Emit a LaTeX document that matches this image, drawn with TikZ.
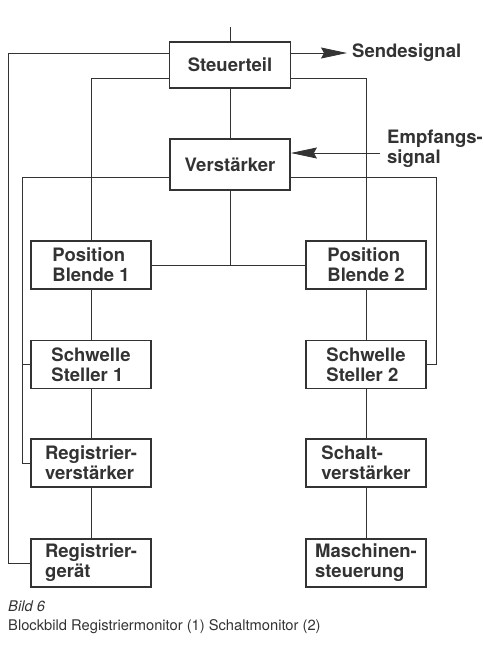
\documentclass[tikz,border=0pt]{standalone}
\usepackage{fontspec}
\setmainfont{TeX Gyre Heros}
\usetikzlibrary{arrows.meta}
\definecolor{ink}{gray}{0.2}
\begin{document}
\begin{tikzpicture}[x=1pt,y=-1pt,
  box/.style={draw=ink,line width=1.8pt,minimum width=120pt,minimum height=48pt,align=left,text=ink,font=\fontsize{18.5}{20}\selectfont\bfseries},
  lbl/.style={text=ink,align=left,inner sep=5pt,font=\fontsize{18.5}{20}\selectfont\bfseries},
  unterschrift/.style={text=ink,inner sep=0pt,anchor=west,font=\fontsize{14.7}{17}\selectfont},
  wire/.style={draw=ink,line width=0.8pt},
  pfeil/.style={wire,-{Stealth[length=26pt,width=11pt,inset=3pt]}}]
\useasboundingbox (0,0) rectangle (483,646);
\node[box,minimum width=121pt,minimum height=46pt](steuer) at (230,65){Steuerteil};
\node[box,minimum height=51pt](verst) at (230,164.5){Verstärker};
\node[box](pb1) at (91,265){Position\\Blende 1};
\node[box](pb2) at (366,265){Position\\Blende 2};
\node[box](ss1) at (91,364.5){Schwelle\\Steller 1};
\node[box](ss2) at (366,364.5){Schwelle\\Steller 2};
\node[box](rv) at (91,463){Registrier-\\verstärker};
\node[box](sv) at (366,463){Schalt-\\verstärker};
\node[box](rg) at (91,563){Registrier-\\gerät};
\node[box](ms) at (366,563){Maschinen-\\steuerung};
\node[lbl,anchor=west](send) at (347,53){Sendesignal};
\node[lbl,anchor=west](empf) at (382,149){Empfangs-\\signal};
\node[unterschrift,font=\fontsize{14.7}{17}\selectfont\itshape](bild) at (8,606){Bild 6};
\node[unterschrift](text) at (8,627){Blockbild Registriermonitor (1) Schaltmonitor (2)};
\coordinate (oben) at (230,27);
\coordinate (ein) at (380,153);
\coordinate (xa) at (8,0);
\coordinate (xb) at (22,0);
\coordinate (xc) at (436,0);
\draw[wire](oben)--(steuer.north);
\draw[wire](steuer.south)--(verst.north);
\draw[pfeil]([yshift=12pt]steuer.east)--(send.west);
\draw[pfeil](ein)--(verst.east |- ein);
\draw[wire]([yshift=12pt]steuer.west)-|(xa |- rg.west)--(rg.west);
\draw[wire]([yshift=-13pt]steuer.west)-|(pb1.north);
\draw[wire]([yshift=-13pt]steuer.east)-|(pb2.north);
\draw[wire]([yshift=-12.5pt]verst.west)-|(xb |- rv.west)--(rv.west);
\draw[wire](xb |- ss1.west)--(ss1.west);
\draw[wire]([yshift=-12.5pt]verst.east)-|(xc |- ss2.east)--(ss2.east);
\draw[wire](verst.south)--(verst.south |- pb1.east);
\draw[wire](pb1.east)--(pb2.west);
\foreach \a/\b in {pb1/ss1,ss1/rv,rv/rg,pb2/ss2,ss2/sv,sv/ms}
  \draw[wire](\a)--(\b);
\end{tikzpicture}
\end{document}
